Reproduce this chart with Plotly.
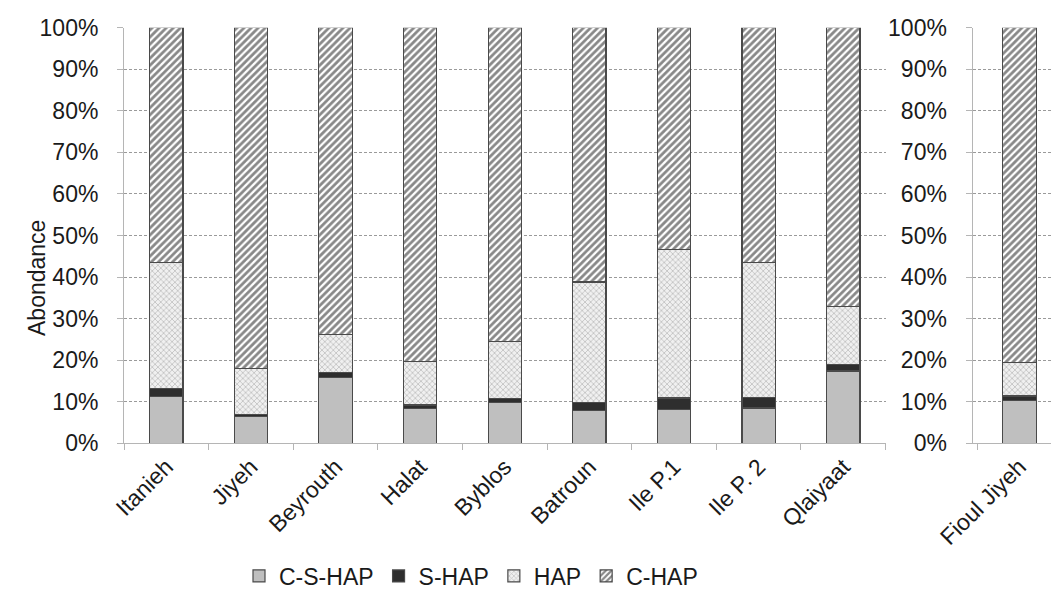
import plotly.graph_objects as go

sites = ["Itanieh", "Jiyeh", "Beyrouth", "Halat", "Byblos", "Batroun", "Ile P.1", "Ile P. 2", "Qlaiyaat"]
fuel = ["Fioul Jiyeh"]

# percentages (stacked from bottom)
c_s_hap = [11.2, 6.4, 15.8, 8.3, 9.8, 7.9, 8.2, 8.5, 17.4]
s_hap = [2.0, 0.6, 1.2, 0.9, 0.9, 1.9, 2.7, 2.6, 1.5]
hap = [30.3, 11.0, 9.2, 10.4, 13.8, 29.0, 35.8, 32.4, 14.0]
c_hap = [56.5, 82.0, 73.8, 80.4, 75.5, 61.2, 53.3, 56.5, 67.1]

fuel_c_s_hap = [10.3]
fuel_s_hap = [1.1]
fuel_hap = [8.0]
fuel_c_hap = [80.6]

series_names = ["C-S-HAP", "S-HAP", "HAP", "C-HAP"]
left_vals = [c_s_hap, s_hap, hap, c_hap]
right_vals = [fuel_c_s_hap, fuel_s_hap, fuel_hap, fuel_c_hap]

outline = dict(color="#4a4a4a", width=1.2)
styles = [
    dict(color="#bfbfbf", line=outline),
    dict(color="#2e2e2e", line=outline),
    dict(color="#ffffff", line=outline,
         pattern=dict(shape="x", fgcolor="#8a8a8a", bgcolor="#f0f0f0", size=4, solidity=0.35)),
    dict(color="#ffffff", line=outline,
         pattern=dict(shape="/", fgcolor="#111111", bgcolor="#ffffff", size=5, solidity=0.55)),
]

fig = go.Figure()
for name, vals, st in zip(series_names, left_vals, styles):
    fig.add_trace(go.Bar(x=sites, y=vals, name=name, marker=st,
                         xaxis="x", yaxis="y", legendgroup=name))
for name, vals, st in zip(series_names, right_vals, styles):
    fig.add_trace(go.Bar(x=fuel, y=vals, name=name, marker=st,
                         xaxis="x2", yaxis="y2", legendgroup=name, showlegend=False))

W, H = 1051, 597
font_fam = "Liberation Sans, Arial, sans-serif"
txt = "#1a1a1a"
FS = 23

def px(v):
    return v / W

def py(v):
    return 1 - v / H

y_dom = [py(443.3), py(27.7)]
tickvals = list(range(0, 101, 10))
ticktext = [f"{v}%" for v in tickvals]

yax_common = dict(
    range=[0, 100], tickvals=tickvals, ticktext=ticktext,
    showgrid=True, gridcolor="#9a9a9a", griddash="3px,2px", gridwidth=1,
    showline=True, linecolor="#b5b5b5", linewidth=1,
    ticks="outside", ticklen=6, tickcolor="#b5b5b5",
    tickfont=dict(size=FS, color=txt, family=font_fam),
    zeroline=False, ticklabelstandoff=14, automargin=False,
)
xax_common = dict(
    showline=True, linecolor="#b5b5b5", linewidth=1,
    ticks="outside", ticklen=6, tickcolor="#b5b5b5", tickson="boundaries",
    tickangle=-45, tickfont=dict(size=FS, color=txt, family=font_fam),
    showgrid=False, automargin=False,
)

fig.update_layout(
    width=W, height=H,
    margin=dict(l=0, r=0, t=0, b=0, autoexpand=False),
    paper_bgcolor="white", plot_bgcolor="white",
    barmode="stack", bargap=0.606,
    font=dict(family=font_fam, color=txt),
    xaxis=dict(domain=[px(124), px(885.6)], anchor="y", range=[-0.5, 8.5], **xax_common),
    yaxis=dict(domain=y_dom, anchor="x", **yax_common),
    xaxis2=dict(domain=[px(972.5), 1.0], anchor="y2", range=[-0.554, 0.373], **xax_common),
    yaxis2=dict(domain=y_dom, anchor="x2", **yax_common),
    legend=dict(orientation="h", x=px(471), xanchor="center", y=py(576), yanchor="middle",
                font=dict(size=FS, color=txt, family=font_fam), itemwidth=30,
                traceorder="normal"),
    annotations=[dict(text="Abondance", x=px(22), y=py(278), xref="paper", yref="paper",
                      showarrow=False, textangle=-90, font=dict(size=FS, color=txt, family=font_fam))],
)

fig.write_html("out.html", config={"displayModeBar": False},
               post_script="document.body.style.margin='0';document.body.style.overflow='hidden';")
